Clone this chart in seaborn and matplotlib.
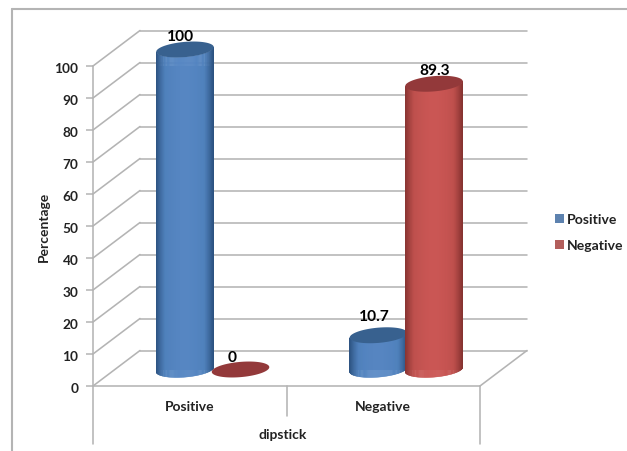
import numpy as np
import pandas as pd
import matplotlib
matplotlib.use("Agg")
import matplotlib.pyplot as plt
import seaborn as sns
from matplotlib.collections import PolyCollection
from matplotlib.colors import LinearSegmentedColormap
from matplotlib.lines import Line2D
from matplotlib.patches import Polygon
from matplotlib.transforms import IdentityTransform, ScaledTranslation, offset_copy

# Cross-tabulated percentages
categories = ["Positive", "Negative"]
series_names = ["Positive", "Negative"]
positive_values = [100, 10.7]
negative_values = [0, 89.3]
y_ticks = list(range(0, 101, 10))

W, H = 627, 452
GRID = "#b4b4b4"
TEXT = "#222222"
FILL = ["#4f81bd", "#c0504d"]
GLOW = ["#5687c4", "#cc5654"]
EDGE = ["#2c5280", "#863331"]
CAP = ["#38618f", "#93393a"]

sns.set_theme(style="white")
plt.rcParams["font.family"] = ["Lato", "DejaVu Sans"]
plt.rcParams["font.weight"] = "bold"

table = pd.DataFrame({
    "dipstick": categories * 2,
    "Result": [series_names[0]] * 2 + [series_names[1]] * 2,
    "Percentage": positive_values + negative_values,
})

fig = plt.figure(figsize=(W / 100, H / 100), dpi=100, facecolor="white")
ax = fig.add_axes([93 / W, (H - 387) / H, 387 / W, 320 / H])
ax.patch.set_visible(False)

sns.barplot(data=table, x="dipstick", y="Percentage", hue="Result",
            palette=FILL, width=0.574, gap=0, linewidth=0, ax=ax, zorder=3)
ax.set_xlim(-0.5, 1.5)
ax.set_ylim(0, 100)

# Oblique projection used for the walls and the cylinders
DEPTH_X, DEPTH_Y = 47, 35.5
MID_X, MID_Y = 23, 16.5
to_px = ax.transData.transform
identity = IdentityTransform()
mid_plane = offset_copy(ax.transData, fig=fig, x=MID_X, y=MID_Y, units="dots")


def wall_line(xs, ys, z=1):
    ax.add_line(Line2D(xs, ys, transform=identity, color=GRID, lw=1.15,
                       clip_on=False, zorder=z))


# Side wall diagonals and back wall gridlines
for tick in y_ticks:
    x0, y0 = to_px((-0.5, tick))
    x1, _ = to_px((1.5, tick))
    wall_line([x0, x0 + DEPTH_X], [y0, y0 + DEPTH_Y])
    if tick > 0:
        wall_line([x0 + DEPTH_X, x1 + DEPTH_X], [y0 + DEPTH_Y, y0 + DEPTH_Y])

# Floor edges
x0, y0 = to_px((-0.5, 0))
x1, _ = to_px((1.5, 0))
wall_line([x0 + DEPTH_X, x1 + DEPTH_X], [y0 + DEPTH_Y, y0 + DEPTH_Y], 2)
wall_line([x1, x1 + DEPTH_X], [y0, y0 + DEPTH_Y], 2)
wall_line([x0, x1], [y0, y0], 2)

# Axis lines and the multi-level category dividers
x_mid, _ = to_px((0.5, 0))
y_top = to_px((0, 100))[1]
wall_line([x0, x0], [y0 - 58, y_top], 2)
wall_line([x1, x1], [y0 - 58, y0], 2)
wall_line([x_mid, x_mid], [y0 - 30, y0], 2)

# Cylinders: every bar from the plot gets a shaded body and an elliptical cap
RADIUS, CAP_MINOR, TILT = 1.04, 7.6, np.radians(5)
label_nudges = [(-4, 13), (-4, 19), (-8, 12), (1, 14)]
nudge = iter(label_nudges)

for series, container in enumerate(ax.containers):
    shade = LinearSegmentedColormap.from_list("lit", [EDGE[series], FILL[series], GLOW[series]])
    for bar in container:
        bar.set_transform(mid_plane)
        cx = bar.get_x() + bar.get_width() / 2
        value = bar.get_height()
        bx, by = mid_plane.transform((cx, 0))
        _, ty = mid_plane.transform((cx, value))
        px_width = to_px((bar.get_width(), 0))[0] - to_px((0, 0))[0]
        major = px_width / 2 * RADIUS
        order = 3.2 + series * 0.2 + cx * 0.01

        t = np.linspace(np.pi, 2 * np.pi, 90)
        ex = major * np.cos(t) * np.cos(TILT) - CAP_MINOR * np.sin(t) * np.sin(TILT)
        ey = major * np.cos(t) * np.sin(TILT) + CAP_MINOR * np.sin(t) * np.cos(TILT)
        if ty > by:
            strips = [[(bx + ex[i], by + ey[i]), (bx + ex[i + 1], by + ey[i + 1]),
                       (bx + ex[i + 1], ty + ey[i + 1]), (bx + ex[i], ty + ey[i])]
                      for i in range(len(t) - 1)]
            light = 1 - np.abs((ex[:-1] + ex[1:]) / 2 / major) ** 1.8
            body = PolyCollection(strips, array=light, cmap=shade, edgecolors="face",
                                  linewidths=0.3, transform=identity, zorder=order,
                                  clip_on=False)
            body.set_clim(0, 1)
            ax.add_collection(body, autolim=False)

        full = np.linspace(0, 2 * np.pi, 120)
        cap_x = major * np.cos(full) * np.cos(TILT) - CAP_MINOR * np.sin(full) * np.sin(TILT)
        cap_y = major * np.cos(full) * np.sin(TILT) + CAP_MINOR * np.sin(full) * np.cos(TILT)
        ax.add_patch(Polygon(np.c_[bx + cap_x, ty + cap_y], closed=True, fc=CAP[series],
                             ec="none", transform=identity, clip_on=False,
                             zorder=order + 0.001))

        dx, dy = next(nudge)
        ax.annotate(f"{value:g}", xy=(cx, value), xycoords=mid_plane,
                    xytext=(dx, dy), textcoords="offset pixels", ha="center",
                    va="center", fontsize=11.2, fontweight="bold", color="black",
                    zorder=6, annotation_clip=False)

# Axes, ticks and titles
sns.despine(ax=ax, left=True, bottom=True, top=True, right=True)
ax.set_yticks(y_ticks)
ax.set_xticks(range(len(categories)))
ax.set_xticklabels(categories)
ax.tick_params(axis="y", length=5, width=1.1, color=GRID, pad=5.5, labelsize=9.8,
               labelcolor=TEXT, left=True)
ax.tick_params(axis="x", length=0, pad=10, labelsize=10, labelcolor=TEXT)
drop = ScaledTranslation(0, -1.5 / 100, fig.dpi_scale_trans)
for label in ax.get_yticklabels():
    label.set_transform(label.get_transform() + drop)
ax.set_xlabel("dipstick", fontsize=10, fontweight="bold", color=TEXT)
ax.set_ylabel("Percentage", fontsize=10, fontweight="bold", color=TEXT)
ax.xaxis.set_label_coords(0.491, -0.132)
ax.yaxis.set_label_coords(-0.111, 0.5)

sns.move_legend(ax, loc="upper left", bbox_to_anchor=(555 / W, (H - 214) / H),
                bbox_transform=fig.transFigure, title=None, frameon=False,
                fontsize=10.1, handlelength=0.62, handleheight=0.62, handletextpad=0.2,
                labelspacing=1.0, borderpad=0, borderaxespad=0,
                labelcolor=TEXT)

# Outer chart border, open at the bottom and right
for xs, ys in [([12, 12], [10, H]), ([12, W], [10, 10])]:
    fig.add_artist(Line2D(np.array(xs) / W, 1 - np.array(ys) / H, color=GRID, lw=1.5,
                          transform=fig.transFigure))

fig.savefig("out.png", dpi=100, facecolor="white")
